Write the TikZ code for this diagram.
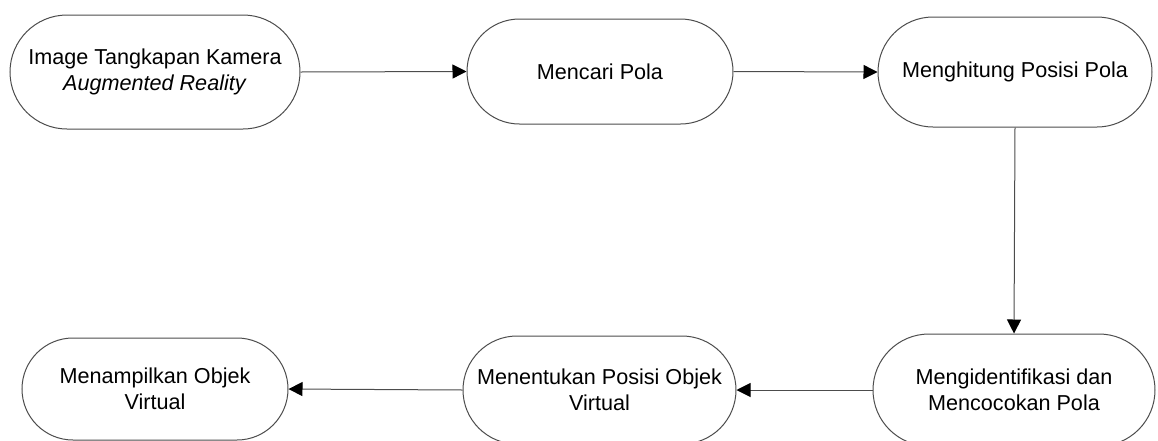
\documentclass[tikz,border=0pt]{standalone}
\usepackage{fontspec}
\setmainfont{Liberation Sans}
\usetikzlibrary{shapes.misc,arrows.meta}
\begin{document}
\begin{tikzpicture}[x=0.5pt,y=-0.5pt,
  proc/.style={rounded rectangle, draw=black!70, line width=0.5pt, inner sep=0pt,
    align=center, font=\fontsize{10.8}{12.8}\selectfont},
  conn/.style={draw=black!70, line width=0.5pt, -{Triangle[length=7pt,width=7pt,color=black,fill=black]}}]
\clip (0,0) rectangle (1158,440);
\node[proc, minimum width=145pt, minimum height=57pt] (n1) at (155,72) {Image Tangkapan Kamera\\\textit{Augmented Reality}};
\node[proc, minimum width=133pt, minimum height=52.5pt] (n2) at (600,71.5) {Mencari Pola};
\node[proc, minimum width=137pt, minimum height=55pt] (n3) at (1015,72) {Menghitung Posisi Pola};
\node[proc, minimum width=141pt, minimum height=56pt] (n6) at (1014,390) {Mengidentifikasi dan\\Mencocokan Pola};
\node[proc, minimum width=136.5pt, minimum height=54pt] (n5) at (599.5,390) {Menentukan Posisi Objek\\Virtual};
\node[proc, minimum width=133pt, minimum height=51pt] (n4) at (155,389) {Menampilkan Objek\\Virtual};
\draw[conn] (n1.east) -- (n2.west);
\draw[conn] (n2.east) -- (n3.west);
\draw[conn] (n3.south) -- (n6.north);
\draw[conn] (n6.west) -- (n5.east);
\draw[conn] (n5.west) -- (n4.east);
\end{tikzpicture}
\end{document}
